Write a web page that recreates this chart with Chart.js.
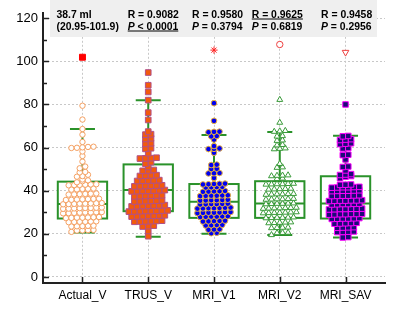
<!DOCTYPE html>
<html><head><meta charset="utf-8">
<script src="https://cdn.jsdelivr.net/npm/chart.js@4/dist/chart.umd.min.js"></script>
<style>html,body{margin:0;padding:0;background:#fff}canvas{display:block}</style>
</head><body>
<canvas id="c" width="400" height="315"></canvas>
<script>
const categories = ['Actual_V', 'TRUS_V', 'MRI_V1', 'MRI_V2', 'MRI_SAV'];

const actualV = [79.4, 73.0, 68.6, 66.0, 62.6, 60.3, 60.1, 59.9, 60.4, 59.8, 58.2, 56.1, 53.5, 51.2, 50.4, 48.7, 48.5, 47.4, 46.8, 46.5, 45.2, 44.8, 44.4, 43.9,
  42.9, 42.8, 42.6, 43.0, 42.7, 42.5,
  41.0, 40.8, 40.6, 40.9, 40.5,
  38.5, 38.3, 38.6, 38.2, 38.4, 38.7,
  36.1, 36.0, 35.8, 36.2, 35.9, 36.3, 35.7,
  34.1, 34.0, 33.8, 34.2, 33.9, 34.3, 33.7, 34.0,
  32.0, 31.9, 31.8, 32.1, 31.7, 32.2, 31.6, 32.0,
  29.9, 29.8, 29.7, 30.0, 29.6, 30.1, 29.5, 29.9,
  27.6, 27.5, 27.4, 27.7, 27.3, 27.8, 27.5,
  25.7, 25.6, 25.5, 25.8, 25.4, 25.6,
  23.7, 23.6, 23.5, 23.8, 23.4,
  21.7, 21.6, 21.5, 21.8,
  20.9];

const trusV = [94.8, 88.9, 85.8, 82.0, 76.2, 72.8, 67.4, 66.2, 66.0, 64.3, 64.0, 62.0, 61.7, 59.7, 59.4, 57.4, 55.1, 55.3, 54.9, 55.0, 53.2, 52.5, 51.0,
  49.4, 49.2, 49.6,
  47.0, 47.2, 46.8, 47.1,
  44.7, 44.9, 44.5, 44.6, 44.8,
  42.3, 42.5, 42.1, 42.4, 42.2, 42.0,
  40.0, 40.2, 39.8, 40.1, 39.9, 40.3, 39.7,
  37.7, 37.9, 37.5, 37.8, 37.6, 37.4,
  35.3, 35.5, 35.1, 35.4, 35.2, 35.0,
  33.0, 33.2, 32.8, 33.1, 32.9, 33.3, 32.7,
  30.6, 30.8, 30.4, 30.7, 30.5, 30.9, 30.3, 30.6,
  28.3, 28.5, 28.1, 28.4, 28.2, 28.6, 28.0,
  25.9, 26.1, 25.7, 26.0, 25.8, 25.6,
  23.6, 23.8, 23.4,
  21.3, 18.9];

const mriV1 = [80.6, 72.4, 67.4, 67.1, 67.3, 65.4, 65.2, 63.7, 60.7, 59.6, 59.4, 59.3, 57.6, 52.1, 51.9, 50.1, 50.2, 48.1, 48.0, 48.2, 45.9,
  43.1, 43.2, 43.0, 43.3, 42.9,
  41.6, 41.7, 41.5, 41.8,
  39.7, 39.8, 39.6, 39.9, 39.5,
  37.7, 37.8, 37.6, 37.9, 37.5, 37.7,
  35.6, 35.7, 35.5, 35.8, 35.4, 35.6,
  33.8, 33.9, 33.7, 34.0, 33.6, 33.8,
  31.9, 32.0, 31.8, 32.1, 31.7, 32.2, 31.9,
  29.8, 29.9, 29.7, 30.0, 29.6, 30.1, 29.8,
  28.0, 28.1, 27.9, 28.2, 27.8, 28.0,
  25.9, 26.0, 25.8, 26.1, 25.7,
  24.0, 24.1, 23.9, 24.2,
  22.0, 22.1, 21.9,
  20.5, 20.3];

const mriV2 = [82.2, 71.6, 67.6, 67.4, 67.8, 65.4, 65.2, 63.4, 63.2, 61.3, 61.1, 59.5, 59.3, 59.7, 52.5, 50.9, 50.7, 47.0, 47.2, 46.8, 47.1, 45.5, 45.7,
  43.1, 43.2, 43.0, 43.3, 42.9, 43.1,
  40.8, 40.9, 40.7, 41.0, 40.6,
  38.4, 38.5, 38.3, 38.6, 38.2, 38.4,
  36.1, 36.2, 36.0, 36.3, 35.9, 36.1,
  34.0, 34.1, 33.9, 34.2, 33.8, 34.0,
  31.9, 32.0, 31.8, 32.1, 31.7, 32.2, 31.9,
  29.8, 29.9, 29.7, 30.0, 29.6, 30.1, 29.8,
  27.5, 27.6, 27.4, 27.7, 27.3, 27.5,
  25.2, 25.3, 25.1, 25.4, 25.0,
  22.8, 22.9, 22.7, 23.0,
  20.5, 20.6, 20.4,
  19.5];

const mriSAV = [80.0, 65.4, 65.2, 63.7, 63.5, 63.9, 61.8, 61.6, 62.0, 59.8, 59.6, 56.7, 56.5, 54.5, 51.2, 51.0, 49.4, 47.5, 47.3, 47.7, 46.8, 46.5, 45.8,
  42.8, 42.9, 42.7,
  41.6, 41.7, 41.5, 41.8, 41.4, 41.6,
  40.0, 40.1, 39.9, 40.2, 39.8, 40.0,
  37.7, 37.8, 37.6, 37.9, 37.5, 37.7,
  35.4, 35.5, 35.3, 35.6, 35.2, 35.4, 35.5,
  33.8, 33.9, 33.7, 34.0, 33.6, 33.8,
  31.5, 31.6, 31.4, 31.7, 31.3, 31.5, 31.6,
  29.1, 29.2, 29.0, 29.3, 28.9, 29.1, 29.2,
  27.1, 27.2, 27.0, 27.3, 26.9, 27.1,
  24.9, 25.0, 24.8, 25.1, 24.7,
  22.9, 23.0, 22.8, 23.1,
  20.9, 21.0, 20.8, 21.1,
  18.3, 18.5];

const whiskerLow  = [20.6, 18.7, 20.0, 19.5, 18.3];
const q1          = [27.1, 30.5, 27.4, 27.4, 27.1];
const median      = [33.8, 40.3, 34.9, 34.1, 34.1];
const q3          = [44.2, 52.2, 43.1, 44.4, 46.7];
const whiskerHigh = [68.6, 82.0, 65.8, 67.2, 65.5];
const maxValues   = [101.9, null, 105.2, 107.8, 104.2];

const yTicks = [0, 20, 40, 60, 80, 100, 120];
const yMinorTicks = [10, 30, 50, 70, 90, 110];

const meanLabel = '38.7 ml';
const rangeLabel = '(20.95-101.9)';
const rValues = [null, '0.9082', '0.9580', '0.9625', '0.9458'];
const pValues = [null, '< 0.0001', '= 0.3794', '= 0.6819', '= 0.2956'];
const rUnderline = [false, false, false, true, false];
const pUnderline = [false, true, false, false, false];

// ---------- layout helpers ----------
function swarm(values, idx, step) {
  const sorted = values.slice().sort((a, b) => a - b);
  const rows = [];
  let cur = null;
  for (const v of sorted) {
    if (cur && v - cur.start < 1.2) cur.vals.push(v);
    else { cur = { start: v, vals: [v] }; rows.push(cur); }
  }
  const pts = [];
  rows.forEach(r => {
    const n = r.vals.length;
    r.vals.forEach((v, i) => pts.push({ x: idx + (i - (n - 1) / 2) * step, y: v }));
  });
  return pts;
}
const STEP = 0.084;
const FONT = "'Liberation Sans', Arial, sans-serif";
const GREEN = '#2a922a';

const boxPlugin = {
  id: 'boxes',
  beforeDatasetsDraw(chart) {
    const { ctx, scales: { x, y } } = chart;
    ctx.save();
    ctx.strokeStyle = GREEN;
    ctx.lineWidth = 2;
    categories.forEach((c, i) => {
      const cx = x.getPixelForValue(i);
      const hw = x.getPixelForValue(i + 0.375) - cx;
      const cw = x.getPixelForValue(i + 0.19) - cx;
      const yq1 = y.getPixelForValue(q1[i]);
      const yq3 = y.getPixelForValue(q3[i]);
      const ym = y.getPixelForValue(median[i]);
      const ylo = y.getPixelForValue(whiskerLow[i]);
      const yhi = y.getPixelForValue(whiskerHigh[i]);
      ctx.strokeRect(cx - hw, yq3, 2 * hw, yq1 - yq3);
      ctx.beginPath();
      ctx.moveTo(cx - hw, ym); ctx.lineTo(cx + hw, ym);
      ctx.moveTo(cx, yq3); ctx.lineTo(cx, yhi);
      ctx.moveTo(cx, yq1); ctx.lineTo(cx, ylo);
      ctx.moveTo(cx - cw, yhi); ctx.lineTo(cx + cw, yhi);
      ctx.moveTo(cx - cw, ylo); ctx.lineTo(cx + cw, ylo);
      ctx.stroke();
    });
    ctx.restore();
  }
};

const decoPlugin = {
  id: 'deco',
  afterDraw(chart) {
    const { ctx, chartArea: a, scales: { x, y } } = chart;
    ctx.save();
    // stats panel
    ctx.fillStyle = '#efefef';
    ctx.fillRect(a.left + 7, 0, a.right - a.left - 15, 37);
    ctx.fillStyle = '#000';
    ctx.strokeStyle = '#000';
    ctx.lineWidth = 1;
    ctx.textBaseline = 'alphabetic';
    ctx.textAlign = 'left';
    const bold = 'bold 10.4px ' + FONT;
    const boldIt = 'italic bold 10.4px ' + FONT;
    const nudge = [-26, -20.5, -22, -28, -24.5];
    const b1 = 17.5, b2 = 29.5;
    const underline = (x0, w, yb) => {
      ctx.beginPath(); ctx.moveTo(x0, yb + 1.5); ctx.lineTo(x0 + w, yb + 1.5); ctx.stroke();
    };
    categories.forEach((c, i) => {
      const lx = x.getPixelForValue(i) + nudge[i];
      ctx.font = bold;
      if (i === 0) {
        ctx.fillText(meanLabel, lx, b1);
        ctx.fillText(rangeLabel, lx, b2);
        return;
      }
      const rt = 'R = ' + rValues[i];
      ctx.fillText(rt, lx, b1);
      if (rUnderline[i]) underline(lx, ctx.measureText(rt).width, b1);
      ctx.font = boldIt;
      ctx.fillText('P', lx, b2);
      const pw = ctx.measureText('P').width;
      ctx.font = bold;
      const rest = ' ' + pValues[i];
      ctx.fillText(rest, lx + pw, b2);
      if (pUnderline[i]) underline(lx, pw + ctx.measureText(rest).width, b2);
    });
    // inward ticks
    ctx.strokeStyle = '#222';
    ctx.lineWidth = 1.5;
    ctx.beginPath();
    yTicks.forEach(v => {
      const py = Math.round(y.getPixelForValue(v)) + 0.5;
      ctx.moveTo(a.left, py); ctx.lineTo(a.left + 6, py);
    });
    yMinorTicks.forEach(v => {
      const py = Math.round(y.getPixelForValue(v)) + 0.5;
      ctx.moveTo(a.left, py); ctx.lineTo(a.left + 4, py);
    });
    categories.forEach((c, i) => {
      const px = Math.round(x.getPixelForValue(i)) + 0.5;
      ctx.moveTo(px, a.bottom); ctx.lineTo(px, a.bottom - 6);
    });
    ctx.stroke();
    ctx.restore();
  }
};

const maxPts = [];
const maxStyle = ['rect', null, 'star', 'circle', 'triangle'];
const maxRot = [0, 0, 0, 0, 180];
const maxRad = [4.2, 0, 3.6, 3.2, 3.8];
const maxBg = ['#ff0000', null, '#ff0000', '#ffffff', '#ffffff'];
const maxBorder = ['#ff0000', null, '#ff2020', '#ee4040', '#ee4040'];
const ms = [], mr = [], mrad = [], mbg = [], mbd = [];
maxValues.forEach((v, i) => {
  if (v === null) return;
  maxPts.push({ x: i, y: v });
  ms.push(maxStyle[i]); mr.push(maxRot[i]); mrad.push(maxRad[i]); mbg.push(maxBg[i]); mbd.push(maxBorder[i]);
});

const gridCommon = { color: '#c8c8c8', lineWidth: 1, drawTicks: false };
const borderCommon = { display: true, color: '#222', width: 2, dash: [2, 2] };

new Chart(document.getElementById('c'), {
  type: 'scatter',
  data: {
    datasets: [
      { data: swarm(actualV, 0, STEP), pointStyle: 'circle', pointRadius: 2.7, pointBackgroundColor: '#ffffff', pointBorderColor: '#f4a062', pointBorderWidth: 1 },
      { data: swarm(trusV, 1, STEP), pointStyle: 'rect', pointRadius: 4.0, pointBackgroundColor: '#f25a0c', pointBorderColor: '#b0508a', pointBorderWidth: 1 },
      { data: swarm(mriV1, 2, STEP), pointStyle: 'circle', pointRadius: 2.8, pointBackgroundColor: '#0000f0', pointBorderColor: '#e8b040', pointBorderWidth: 1 },
      { data: swarm(mriV2, 3, STEP), pointStyle: 'triangle', pointRadius: 3.4, pointBackgroundColor: '#ffffff', pointBorderColor: '#3a9a3a', pointBorderWidth: 1 },
      { data: swarm(mriSAV, 4, STEP), pointStyle: 'rect', pointRadius: 3.9, pointBackgroundColor: '#1c0a78', pointBorderColor: '#ff00ff', pointBorderWidth: 1 },
      { data: maxPts, pointStyle: ms, pointRotation: mr, pointRadius: mrad, pointBackgroundColor: mbg, pointBorderColor: mbd, pointBorderWidth: 1 }
    ]
  },
  options: {
    responsive: false,
    animation: false,
    devicePixelRatio: 1,
    layout: { padding: { top: 12, right: 15, left: 0, bottom: 0 } },
    plugins: { legend: { display: false }, tooltip: { enabled: false } },
    scales: {
      x: {
        type: 'linear', min: -0.6, max: 4.6,
        afterBuildTicks: s => { s.ticks = categories.map((c, i) => ({ value: i })); },
        afterFit: s => { s.height = 32; },
        ticks: { callback: v => categories[v], font: { family: FONT, size: 12 }, color: '#000', padding: 5, autoSkip: false, maxRotation: 0 },
        grid: gridCommon,
        border: borderCommon
      },
      y: {
        min: -2.8, max: 122.5,
        afterBuildTicks: s => { s.ticks = yTicks.map(v => ({ value: v })); },
        afterFit: s => { s.width = 43; },
        ticks: { font: { family: FONT, size: 13 }, color: '#000', padding: 5 },
        grid: gridCommon,
        border: borderCommon
      }
    }
  },
  plugins: [boxPlugin, decoPlugin]
});
</script>
</body></html>
